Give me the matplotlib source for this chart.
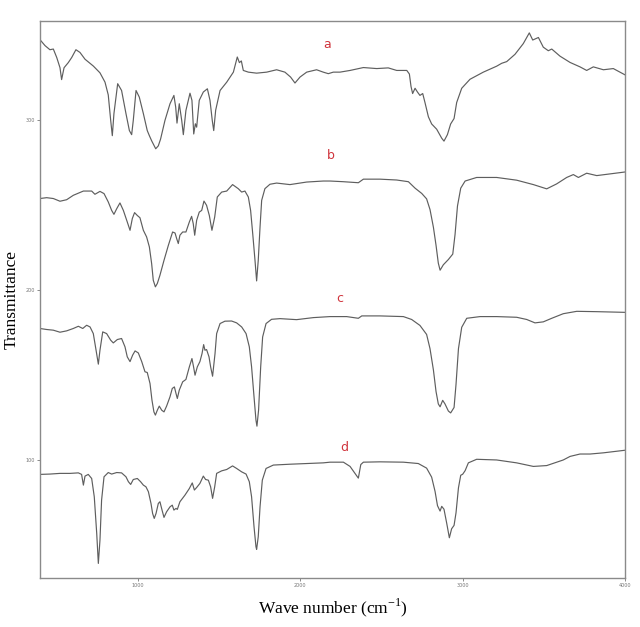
import numpy as np
import matplotlib.pyplot as plt

plt.rcParams['mathtext.fontset'] = 'custom'
plt.rcParams['mathtext.rm'] = 'Liberation Serif'

# spectrum a
a_wn = [400, 431, 461, 482, 503, 523, 533, 548, 574, 595, 621, 646, 677, 728, 769, 800,
        820, 835, 845, 855, 878, 902, 929, 950, 964, 974, 991, 1011, 1036, 1060, 1073,
        1087, 1112, 1128, 1142, 1169, 1200, 1224, 1235, 1243, 1257, 1272, 1282, 1298,
        1323, 1335, 1346, 1356, 1364, 1380, 1405, 1430, 1446, 1460, 1469, 1481, 1508,
        1549, 1590, 1614, 1627, 1639, 1651, 1682, 1733, 1795, 1856, 1907, 1942, 1969,
        2000, 2041, 2102, 2143, 2174, 2205, 2246, 2308, 2390, 2472, 2543, 2595, 2657,
        2673, 2683, 2693, 2708, 2722, 2738, 2755, 2769, 2790, 2810, 2841, 2872, 2886,
        2907, 2927, 2948, 2964, 2995, 3046, 3128, 3210, 3241, 3272, 3323, 3374, 3411,
        3432, 3467, 3497, 3528, 3549, 3600, 3662, 3723, 3764, 3805, 3867, 3928, 3998]
a_t = [347.5, 344, 341.6, 342, 337, 331, 324, 331, 334, 337, 341.6, 340, 336, 332, 328,
       322.5, 315, 300, 291, 304, 321.6, 317.6, 304, 294, 291.6, 300, 317.6, 313.7, 304,
       294, 291, 288, 283.3, 285, 289, 300, 309.8, 314.7, 307.8, 298.4, 309.8, 300, 291.6,
       305.9, 316, 311.8, 292, 298, 296, 311.8, 316.7, 318.6, 311.8, 300, 294, 306, 317.6,
       322.5, 328.4, 337.3, 334, 335, 329.4, 328.4, 327.8, 328.4, 329.8, 328.4, 325.5, 322,
       325.5, 328.4, 329.8, 328.4, 327.5, 328.4, 328.4, 329.4, 331.1, 330.5, 330.9, 329.4,
       329.4, 327.3, 320, 315.8, 318.9, 316.8, 314.7, 315.8, 310.5, 302.1, 297.9, 294.8,
       289.5, 287.8, 291.6, 297.9, 301.1, 310.5, 318.9, 324.2, 328.4, 331.9, 333.6, 334.6,
       338.9, 345.2, 351.5, 347.3, 348.8, 343.1, 341, 342, 337.8, 334.1, 331.5, 329.4,
       331.5, 329.8, 330.5, 326.9]

# spectrum b
b_wn = [400, 441, 482, 523, 564, 605, 667, 718, 738, 769, 794, 820, 841, 855, 872, 892,
        913, 937, 954, 968, 982, 999, 1015, 1036, 1056, 1073, 1087, 1097, 1110, 1122,
        1138, 1163, 1190, 1216, 1231, 1241, 1251, 1261, 1278, 1298, 1319, 1333, 1343,
        1352, 1364, 1380, 1395, 1409, 1425, 1442, 1458, 1475, 1491, 1518, 1549, 1585,
        1620, 1641, 1661, 1682, 1696, 1709, 1723, 1733, 1743, 1754, 1764, 1784, 1815,
        1856, 1938, 2041, 2143, 2185, 2267, 2359, 2390, 2492, 2595, 2667, 2708, 2749,
        2779, 2800, 2821, 2837, 2851, 2862, 2882, 2913, 2940, 2954, 2969, 2989, 3016,
        3087, 3210, 3333, 3436, 3518, 3579, 3641, 3682, 3713, 3764, 3826, 3908, 3998]
b_t = [254, 254.5, 254, 252.4, 253.3, 255.9, 258.4, 258.4, 256.5, 258.2, 256.9, 252, 247,
       244.7, 248, 251.4, 247, 240.2, 235.3, 242.2, 245.7, 244, 242.7, 235.3, 231.4, 225.5,
       215.7, 205.9, 202, 204, 208.8, 217.6, 226.5, 234.3, 233.7, 230.4, 227.5, 232.4,
       234.3, 234.3, 240.2, 243.5, 239.2, 232.4, 241.2, 246, 247, 252.5, 250, 244, 235.3,
       243.1, 254.9, 257.8, 258.4, 262.2, 259.8, 257.8, 258.4, 254.9, 247, 233.3, 217.6,
       205.5, 217.6, 237.2, 252.9, 259.8, 262.4, 263.1, 262.2, 263.7, 264.3, 264.3, 263.9,
       263.3, 265.4, 265.4, 264.9, 263.9, 260.1, 257, 253.8, 247.5, 237, 226.5, 216, 211.8,
       215, 218.1, 221.3, 232.8, 249.6, 260.1, 264.3, 266.4, 266.4, 264.8, 262.2, 259.7,
       262.6, 266.4, 268.1, 266.4, 268.9, 267.5, 268.5, 269.6]

# spectrum c
c_wn = [400, 441, 482, 523, 564, 605, 636, 663, 687, 708, 728, 745, 759, 769, 786, 810,
        835, 851, 876, 902, 923, 937, 954, 970, 985, 1005, 1026, 1046, 1060, 1077, 1089,
        1101, 1110, 1122, 1134, 1149, 1163, 1179, 1200, 1214, 1227, 1237, 1245, 1257,
        1278, 1298, 1319, 1335, 1345, 1354, 1368, 1384, 1397, 1407, 1415, 1425, 1440,
        1450, 1462, 1477, 1487, 1508, 1538, 1579, 1610, 1641, 1668, 1688, 1702, 1717,
        1729, 1735, 1745, 1758, 1770, 1791, 1825, 1877, 1979, 2082, 2185, 2287, 2359,
        2380, 2492, 2636, 2687, 2738, 2779, 2800, 2821, 2837, 2851, 2862, 2878, 2892,
        2913, 2927, 2948, 2960, 2975, 2995, 3026, 3108, 3210, 3333, 3395, 3446, 3497,
        3549, 3620, 3703, 3826, 3998]
c_t = [177.5, 176.9, 176.5, 175.3, 176.1, 177.5, 178.8, 177.5, 179.4, 178.4, 174.5, 164.7,
       156.5, 164.7, 175.5, 174.5, 170.6, 169, 171, 171.6, 166.7, 160.8, 158, 161.8, 164.3,
       163.1, 158, 152, 151.6, 145.1, 135.3, 128.4, 126.5, 129.4, 131.8, 129.4, 128.4,
       131.8, 137.3, 142.2, 143.1, 139.2, 136.3, 141.2, 146.1, 147.5, 154.9, 159.8, 154.9,
       150, 154.9, 158, 162.7, 168, 164.7, 165.1, 160.8, 154.9, 149.4, 162.7, 174.5, 180.4,
       181.8, 181.9, 180.8, 178.4, 174.5, 166.7, 154.9, 137.3, 123.5, 120, 129.4, 154.9,
       172.5, 180.4, 182.9, 183.3, 182.7, 183.9, 184.5, 184.5, 183.5, 184.9, 184.9, 184.5,
       182.8, 179.3, 174, 165.6, 153, 140.4, 133.1, 131.4, 135.2, 133.1, 128.9, 127.8, 131,
       144.6, 165.6, 178.2, 183.5, 184.5, 184.5, 184.1, 182.8, 180.8, 181.4, 183.5, 186.2,
       187.6, 187.4, 187]

# spectrum d
d_wn = [400, 461, 523, 585, 636, 656, 667, 677, 697, 718, 734, 749, 759, 769, 779, 794,
        820, 841, 872, 902, 929, 944, 958, 974, 999, 1019, 1036, 1052, 1067, 1083, 1093,
        1103, 1114, 1128, 1138, 1151, 1163, 1179, 1200, 1214, 1224, 1237, 1245, 1261,
        1292, 1319, 1337, 1350, 1364, 1384, 1405, 1419, 1436, 1450, 1462, 1475, 1487,
        1518, 1549, 1585, 1610, 1641, 1668, 1688, 1702, 1717, 1729, 1733, 1743, 1754,
        1768, 1791, 1836, 1938, 2041, 2143, 2185, 2267, 2308, 2339, 2359, 2374, 2390,
        2492, 2636, 2728, 2779, 2810, 2831, 2846, 2862, 2872, 2886, 2903, 2919, 2933,
        2948, 2960, 2975, 2989, 3001, 3016, 3036, 3087, 3210, 3333, 3436, 3518, 3620,
        3662, 3723, 3785, 3867, 3998]
d_t = [91.6, 91.8, 92.2, 92.2, 92.5, 91.6, 85.3, 90.6, 91.6, 89.2, 78.4, 56.9, 39.2, 52.9,
       76.5, 90.2, 92.7, 91.8, 92.7, 92.5, 90.2, 87.3, 85.7, 88.6, 89.2, 87.3, 85.3, 84.3,
       81.4, 74.5, 68.6, 65.7, 68.6, 74.5, 75.5, 70.6, 66.3, 69.6, 72.5, 73.5, 70.6, 71.6,
       71, 75.5, 79.4, 83.3, 86.6, 82.4, 83.9, 86.3, 90.6, 88.6, 88.2, 84.3, 77.5, 84.3,
       92.2, 93.7, 94.5, 96.6, 95.1, 93.1, 91.8, 87.3, 78.4, 60.8, 49, 47.5, 54.9, 72.5,
       88.2, 95.1, 97.1, 97.6, 98, 98.4, 98.8, 98.8, 96.3, 92.1, 89.4, 97.4, 98.8, 99, 98.8,
       98, 95.3, 90, 81.6, 73.2, 70, 72.8, 71.1, 62.7, 54.3, 59.6, 61.6, 69, 83.7, 91.1,
       91.7, 93.8, 98.4, 100.5, 100.1, 98.4, 96.3, 96.8, 100.1, 102.2, 103.6, 103.6, 104.3,
       105.8]

labels = ['a', 'b', 'c', 'd']
label_wn = [2166, 2192, 2246, 2271]
label_t = [344.5, 279.4, 195, 107.6]

fig = plt.figure(figsize=(6.4, 6.27), dpi=100)
ax = fig.add_axes([0.0625, 0.0781, 0.9141, 0.8884])

for wn, t in [(a_wn, a_t), (b_wn, b_t), (c_wn, c_t), (d_wn, d_t)]:
    ax.plot(wn, t, color='#5e5e5e', lw=0.85)

for s, x, y in zip(labels, label_wn, label_t):
    ax.text(x, y, s, color='#d0343c', fontsize=9, ha='center', va='center')

ax.set_xlim(400, 4000)
ax.set_ylim(30.6, 358.5)
ax.set_xticks([1000, 2000, 3000, 4000])
ax.set_yticks([100, 200, 300])
ax.tick_params(labelsize=3.5, length=2, width=0.6, colors='#777777', pad=1.5)
for sp in ax.spines.values():
    sp.set_color('#8a8a8a')
    sp.set_linewidth(1.0)

ax.set_ylabel('Transmittance', family='Liberation Serif', fontsize=12.5)
ax.set_xlabel('Wave number (cm$^{-1}$)', family='Liberation Serif', fontsize=12.5)
ax.yaxis.set_label_coords(-0.034, 0.5)
ax.xaxis.set_label_coords(0.5, -0.034)

fig.savefig('out.png', dpi=100)
